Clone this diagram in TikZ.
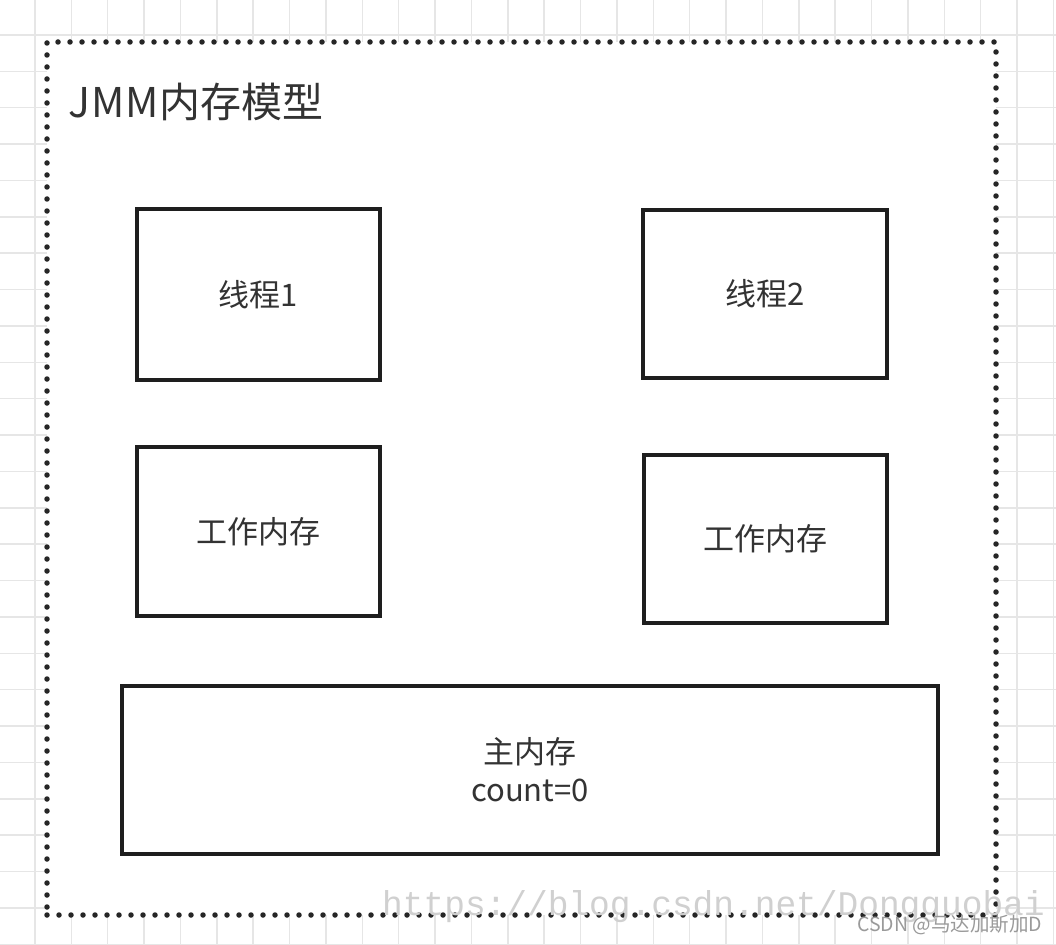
\documentclass[tikz,border=0pt]{standalone}
\usepackage{fontspec}
\setmainfont{Noto Sans CJK SC}
\newfontfamily\wmfont{Liberation Mono}
\definecolor{gridc}{HTML}{E6E6E6}
\definecolor{boxc}{HTML}{1E1E1E}
\definecolor{txtc}{HTML}{333333}
\definecolor{dotc}{HTML}{262626}
\definecolor{wmc}{HTML}{D0D0D0}
\definecolor{csdnc}{HTML}{9A9A9A}
\begin{document}
\begin{tikzpicture}[x=1pt,y=-1pt,
  gridline/.style={draw=gridc, line width=1.5pt},
  frame/.style={draw=dotc, fill=white, line width=5.5pt, dash pattern=on 0pt off 12pt, line cap=round, inner sep=0pt},
  box/.style={draw=boxc, line width=4pt, fill=white, inner sep=0pt, font=\fontsize{31}{38}\selectfont, text=txtc, align=center},
]
\useasboundingbox (0,0) rectangle (1056,944);
\fill[white] (0,0) rectangle (1056,944);
\foreach \i in {0,...,28} { \draw[gridline] ({35+\i*36.37},0) -- ({35+\i*36.37},944); }
\foreach \i in {0,...,25} { \draw[gridline] (0,{35+\i*36.37}) -- (1056,{35+\i*36.37}); }

\node[frame, minimum width=949pt, minimum height=873pt] (jmm) at (521.5,478.5) {};
\node[anchor=west, font=\fontsize{41}{48}\selectfont, text=txtc, inner sep=0pt] (title) at (68,102) {J\kern1ptM\kern1ptM\kern1pt 内存模型};

\node[box, minimum width=243pt, minimum height=171pt] (t1) at (258.5,294.5) {线程1};
\node[box, minimum width=244pt, minimum height=168pt] (t2) at (765,294) {线程2};
\node[box, minimum width=243pt, minimum height=169pt] (w1) at (258.5,531.5) {工作内存};
\node[box, minimum width=243pt, minimum height=168pt] (w2) at (765.5,539) {工作内存};
\node[box, minimum width=816pt, minimum height=168pt] (main) at (530,770) {主内存\\count=0};

\node[anchor=base west, font=\wmfont\fontsize{34.5}{40}\selectfont, text=wmc, inner sep=0pt] (url) at (382,915) {https://blog.csdn.net/Dongguobai};
\node[anchor=west, font=\fontsize{19.5}{22}\selectfont, text=csdnc, inner sep=0pt] (csdn) at (857,925) {CSDN @马达加斯加D};
\end{tikzpicture}
\end{document}
